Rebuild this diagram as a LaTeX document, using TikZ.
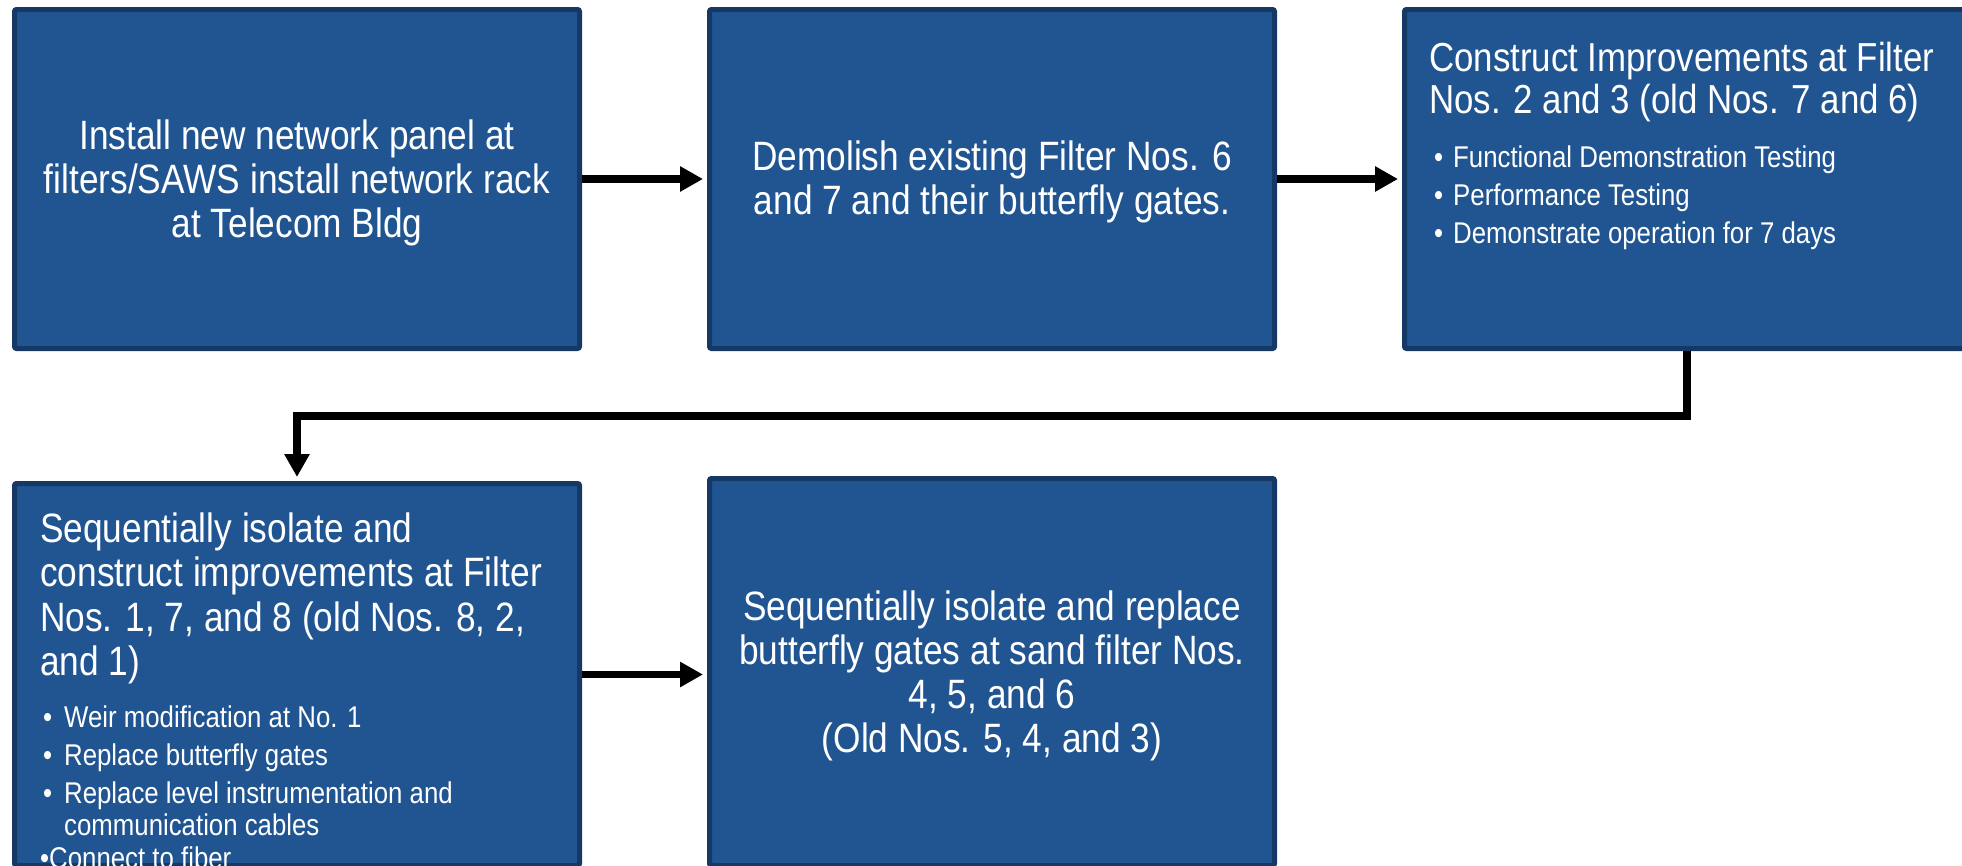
\documentclass[tikz,border=0pt]{standalone}
\usepackage{fontspec}
\setmainfont{Liberation Sans}[FakeStretch=0.86]
\usetikzlibrary{arrows.meta}
\definecolor{boxfill}{RGB}{33,85,146}
\definecolor{boxline}{RGB}{22,56,100}
\newcommand\myitem[3]{{\fontsize{30}{32}\selectfont\hangindent=#2\relax\hangafter=1\noindent\hspace*{#1}\makebox[\dimexpr#2-#1\relax][l]{•}#3\par}}
\tikzset{
  stepbox/.style={draw=boxline, fill=boxfill, line width=5pt, rounded corners=2pt,
    minimum width=565pt, inner sep=0pt},
  boxtext/.style={text=white, align=center, inner sep=0pt,
    font=\fontsize{41}{44}\selectfont},
  bodytext/.style={text=white, inner sep=0pt, anchor=base west, text width=540pt},
  conn/.style={line width=7.5pt, draw=black, -{Triangle[length=23pt,width=24pt]}}
}
\begin{document}
\begin{tikzpicture}[x=1pt,y=-1pt]
\useasboundingbox (0,0) rectangle (1962,865);
\clip (0,0) rectangle (1962,865);
\node[stepbox, minimum height=339pt] (b1) at (297,179) {};
\node[stepbox, minimum height=339pt] (b2) at (992,179) {};
\node[stepbox, minimum height=339pt] (b3) at (1687,179) {};
\node[stepbox, minimum height=382pt] (b4) at (297,674.5) {};
\node[stepbox, minimum height=387pt] (b5) at (992,672) {};
\node[boxtext] (t1) at ([yshift=-4pt]b1.center) {Install new network panel at\\filters/SAWS install network rack\\at Telecom Bldg};
\node[boxtext] (t2) at ([yshift=-3pt]b2.center) {Demolish existing Filter Nos. 6\\and 7 and their butterfly gates.};
\node[boxtext] (t5) at ([yshift=-4pt]b5.center) {Sequentially isolate and replace\\butterfly gates at sand filter Nos.\\4, 5, and 6\\(Old Nos. 5, 4, and 3)};
\node[bodytext] (t3) at (1429,71.5) {\raggedright\spaceskip=0pt\xspaceskip=0pt{\fontsize{40.5}{42}\selectfont Construct Improvements at Filter\newline Nos. 2 and 3 (old Nos. 7 and 6)\par}\vspace{22pt}%
\myitem{5pt}{24pt}{Functional Demonstration Testing}\vspace{6pt}%
\myitem{5pt}{24pt}{Performance Testing}\vspace{6pt}%
\myitem{5pt}{24pt}{Demonstrate operation for 7 days}};
\node[bodytext] (t4) at (40,542) {\raggedright\spaceskip=0pt\xspaceskip=0pt{\fontsize{41}{44.5}\selectfont Sequentially isolate and\newline construct improvements at Filter\newline Nos. 1, 7, and 8 (old Nos. 8, 2,\newline and 1)\par}\vspace{20pt}%
\myitem{3pt}{24pt}{Weir modification at No. 1}\vspace{6pt}%
\myitem{3pt}{24pt}{Replace butterfly gates}\vspace{6pt}%
\myitem{3pt}{24pt}{Replace level instrumentation and\newline communication cables}\vspace{1pt}%
{\fontsize{30}{32}\selectfont\noindent•Connect to fiber\par}};
\draw[conn, shorten >=4pt] (b1.east) -- (b2.west);
\draw[conn, shorten >=4pt] (b2.east) -- (b3.west);
\draw[conn, shorten >=4pt] (b4.east) -- (b4.east -| b5.west);
\draw[conn, shorten >=4pt] (b3.south) -- ++(0,65) -| (b4.north);
\end{tikzpicture}
\end{document}
